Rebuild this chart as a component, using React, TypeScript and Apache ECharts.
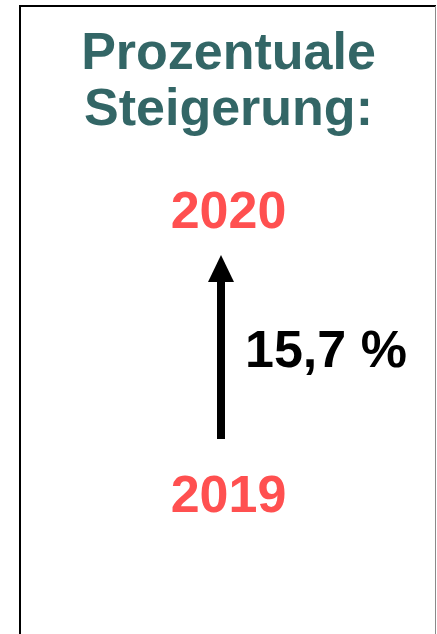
import React, { useEffect, useRef } from "react";
import * as echarts from "echarts";

const titleLines: string[] = ["Prozentuale", "Steigerung:"];
const years: string[] = ["2019", "2020"];
const changePercent: number[] = [15.7];

export default function App() {
  const ref = useRef<HTMLDivElement>(null);
  useEffect(() => {
    if (!ref.current) return;
    const chart = echarts.init(ref.current, undefined, { renderer: "svg" });
    const font = '"Liberation Sans", Arial, sans-serif';
    const label = changePercent[0].toFixed(1).replace(".", ",") + " %";
    chart.setOption({
      animation: false,
      backgroundColor: "#ffffff",
      graphic: [
        // frame
        { type: "line", shape: { x1: 20, y1: 5, x2: 20, y2: 640 }, style: { stroke: "#000", lineWidth: 2 } },
        { type: "line", shape: { x1: 19, y1: 6, x2: 436, y2: 6 }, style: { stroke: "#000", lineWidth: 2 } },
        { type: "line", shape: { x1: 435.5, y1: 6, x2: 435.5, y2: 640 }, style: { stroke: "#8a8a8a", lineWidth: 1 } },
        // title
        {
          type: "text", x: 228.5, y: 51,
          style: { text: titleLines[0], fill: "#336666", font: `bold 52px ${font}`, align: "center", verticalAlign: "middle" },
        },
        {
          type: "text", x: 228.5, y: 106.5,
          style: { text: titleLines[1], fill: "#336666", font: `bold 52px ${font}`, align: "center", verticalAlign: "middle" },
        },
        // years
        {
          type: "text", x: 228.5, y: 210,
          style: { text: years[1], fill: "#FF5050", font: `bold 52px ${font}`, align: "center", verticalAlign: "middle" },
        },
        {
          type: "text", x: 228.5, y: 493.5,
          style: { text: years[0], fill: "#FF5050", font: `bold 52px ${font}`, align: "center", verticalAlign: "middle" },
        },
        // arrow
        { type: "rect", shape: { x: 217, y: 278, width: 8, height: 161 }, style: { fill: "#000" } },
        { type: "polygon", shape: { points: [[221, 255], [234, 282], [208, 282]] }, style: { fill: "#000" } },
        // percent label
        {
          type: "text", x: 245, y: 348.5,
          style: { text: label, fill: "#000", font: `bold 52px ${font}`, align: "left", verticalAlign: "middle" },
        },
      ],
    });
    return () => chart.dispose();
  }, []);
  return <div ref={ref} style={{ position: "fixed", left: 0, top: 0, width: 437, height: 634 }} />;
}
